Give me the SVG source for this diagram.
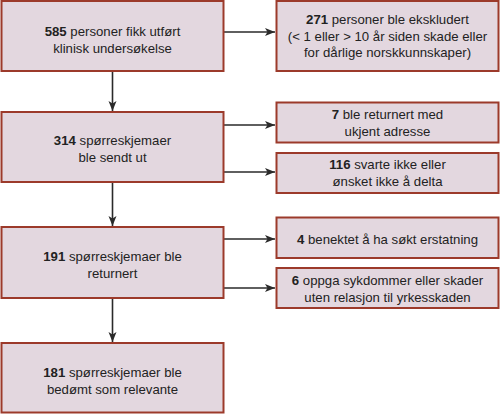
<svg xmlns="http://www.w3.org/2000/svg" width="500" height="414" viewBox="0 0 500 414">
<style>
.box{fill:#e3d7df;stroke:#9c3a2b;stroke-width:2}
.t{font-family:"Liberation Sans",Arial,sans-serif;font-size:13.2px;fill:#222;text-anchor:middle}
.b{font-weight:bold}
.c{stroke:#2a2a2a;stroke-width:1.6;fill:none;marker-end:url(#ah)}
</style>
<defs>
<marker id="ah" markerUnits="userSpaceOnUse" markerWidth="12" markerHeight="10" refX="10" refY="4" orient="auto">
<path d="M0,0 L10,4 L0,8 L2.5,4 z" fill="#2a2a2a"/>
</marker>
</defs>
<rect width="500" height="414" fill="#fff"/>
<g id="connectors">
<line class="c" x1="224" y1="32" x2="275" y2="32"/>
<line class="c" x1="224" y1="125" x2="275" y2="125"/>
<line class="c" x1="224" y1="172" x2="275" y2="172"/>
<line class="c" x1="224" y1="239" x2="275" y2="239"/>
<line class="c" x1="224" y1="288" x2="275" y2="288"/>
<line class="c" x1="112.5" y1="71" x2="112.5" y2="111"/>
<line class="c" x1="112.5" y1="182" x2="112.5" y2="226"/>
<line class="c" x1="112.5" y1="298" x2="112.5" y2="342"/>
</g>
<g id="n1">
<rect class="box" x="1.5" y="1" width="222" height="70"/>
<text class="t" x="112.5" y="36"><tspan class="b">585</tspan> personer fikk utført</text>
<text class="t" x="112.5" y="53">klinisk undersøkelse</text>
</g>
<g id="n2">
<rect class="box" x="1.5" y="112" width="222" height="70"/>
<text class="t" x="112.5" y="145"><tspan class="b">314</tspan> spørreskjemaer</text>
<text class="t" x="112.5" y="162">ble sendt ut</text>
</g>
<g id="n3">
<rect class="box" x="1.5" y="227" width="222" height="71"/>
<text class="t" x="112.5" y="261"><tspan class="b">191</tspan> spørreskjemaer ble</text>
<text class="t" x="112.5" y="278">returnert</text>
</g>
<g id="n4">
<rect class="box" x="1.5" y="343" width="222" height="69.5"/>
<text class="t" x="112.5" y="377"><tspan class="b">181</tspan> spørreskjemaer ble</text>
<text class="t" x="112.5" y="394">bedømt som relevante</text>
</g>
<g id="nA">
<rect class="box" x="276.5" y="1" width="222" height="70"/>
<text class="t" x="387.5" y="24"><tspan class="b">271</tspan> personer ble ekskludert</text>
<text class="t" x="387.5" y="40.5">(&lt; 1 eller &gt; 10 år siden skade eller</text>
<text class="t" x="387.5" y="57">for dårlige norskkunnskaper)</text>
</g>
<g id="nB">
<rect class="box" x="276.5" y="102.5" width="222" height="40"/>
<text class="t" x="387.5" y="119"><tspan class="b">7</tspan> ble returnert med</text>
<text class="t" x="387.5" y="135.5">ukjent adresse</text>
</g>
<g id="nC">
<rect class="box" x="276.5" y="153" width="222" height="40"/>
<text class="t" x="387.5" y="169"><tspan class="b">116</tspan> svarte ikke eller</text>
<text class="t" x="387.5" y="185.5">ønsket ikke å delta</text>
</g>
<g id="nD">
<rect class="box" x="276.5" y="217.5" width="222" height="40.5"/>
<text class="t" x="387.5" y="244"><tspan class="b">4</tspan> benektet å ha søkt erstatning</text>
</g>
<g id="nE">
<rect class="box" x="276.5" y="268" width="222" height="40"/>
<text class="t" x="387.5" y="285"><tspan class="b">6</tspan> oppga sykdommer eller skader</text>
<text class="t" x="387.5" y="301.5">uten relasjon til yrkesskaden</text>
</g>
</svg>
